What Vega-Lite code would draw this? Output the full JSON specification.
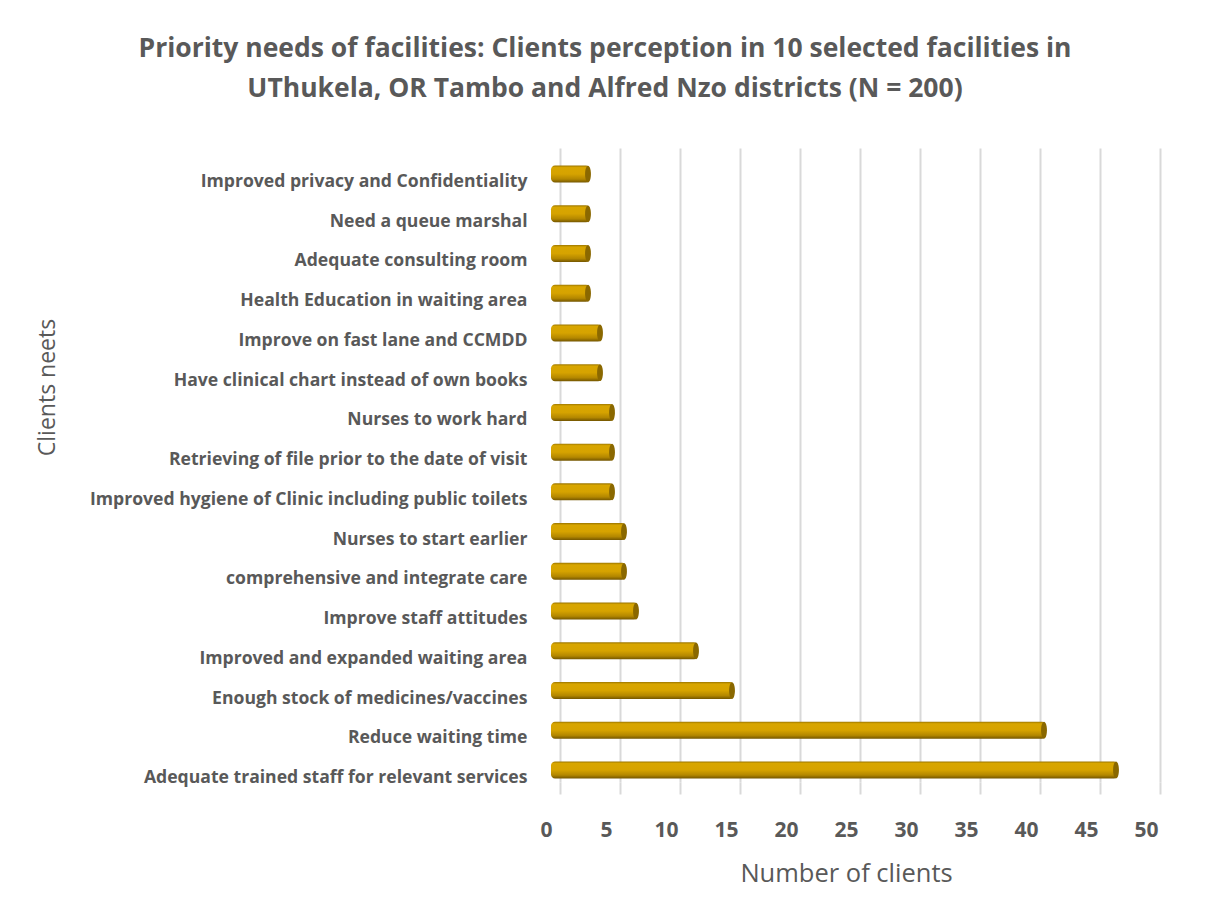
{
  "$schema": "https://vega.github.io/schema/vega-lite/v6.json",
  "autosize": "none",
  "width": 600,
  "height": 634,
  "padding": {"left": 560, "top": 148, "right": 49, "bottom": 142},
  "background": "white",
  "config": {
    "font": "Open Sans",
    "view": {"stroke": null}
  },
  "title": {
    "text": ["Priority needs of facilities: Clients perception in 10 selected facilities in", "UThukela, OR Tambo and Alfred Nzo districts (N = 200)"],
    "fontSize": 26.5,
    "fontWeight": "bold",
    "color": "#595959",
    "anchor": "middle",
    "dx": -255,
    "offset": 46,
    "lineHeight": 40,
    "font": "Open Sans"
  },
  "data": {
    "values": [
      {"need": "Improved privacy and Confidentiality", "clients": 3},
      {"need": "Need a queue marshal", "clients": 3},
      {"need": "Adequate consulting room", "clients": 3},
      {"need": "Health Education in waiting area", "clients": 3},
      {"need": "Improve on fast lane and CCMDD", "clients": 4},
      {"need": "Have clinical chart instead of own books", "clients": 4},
      {"need": "Nurses to work hard", "clients": 5},
      {"need": "Retrieving of file prior to the date of visit", "clients": 5},
      {"need": "Improved hygiene of Clinic including public toilets", "clients": 5},
      {"need": "Nurses to start earlier", "clients": 6},
      {"need": "comprehensive and integrate care", "clients": 6},
      {"need": "Improve staff attitudes", "clients": 7},
      {"need": "Improved and expanded waiting area", "clients": 12},
      {"need": "Enough stock of medicines/vaccines", "clients": 15},
      {"need": "Reduce waiting time", "clients": 41},
      {"need": "Adequate trained staff for relevant services", "clients": 47}
    ]
  },
  "encoding": {
    "y": {
      "field": "need",
      "type": "nominal",
      "sort": null,
      "scale": {"paddingInner": 0.572, "paddingOuter": 0.265},
      "axis": {
        "title": "Clients neets",
        "titleFontSize": 23,
        "titleFontWeight": "normal",
        "titleColor": "#595959",
        "titleX": -513,
        "titleY": 239,
        "titleAngle": -90,
        "titleAlign": "center",
        "titleBaseline": "middle",
        "labelFontSize": 17.6,
        "labelFontWeight": "bold",
        "labelColor": "#595959",
        "labelPadding": 33,
        "labelOffset": 15,
        "labelLimit": 500,
        "ticks": false,
        "domain": false
      }
    },
    "x": {
      "field": "clients",
      "type": "quantitative",
      "scale": {"domain": [0, 50], "nice": false},
      "axis": {
        "title": "Number of clients",
        "titleFontSize": 25.5,
        "titleFontWeight": "normal",
        "titleColor": "#595959",
        "titlePadding": 21,
        "titleX": 286,
        "titleAlign": "center",
        "values": [0, 5, 10, 15, 20, 25, 30, 35, 40, 45, 50],
        "labelFontSize": 21,
        "labelFontWeight": "bold",
        "labelColor": "#595959",
        "labelPadding": 25,
        "labelFlush": false,
        "labelOffset": -14,
        "ticks": true,
        "tickColor": "#d9d9d9",
        "tickWidth": 2,
        "tickSize": 12,
        "domain": false,
        "grid": true,
        "gridColor": "#d9d9d9",
        "gridWidth": 2
      }
    }
  },
  "layer": [
    {
      "mark": {
        "type": "bar",
        "height": 17,
        "cornerRadius": 4,
        "xOffset": -6,
        "x2Offset": -9,
        "yOffset": 7,
        "color": {
          "gradient": "linear",
          "x1": 0, "y1": 0, "x2": 0, "y2": 1,
          "stops": [
            {"offset": 0, "color": "#9c7600"},
            {"offset": 0.12, "color": "#d8a600"},
            {"offset": 0.5, "color": "#d6a300"},
            {"offset": 0.8, "color": "#b38700"},
            {"offset": 1, "color": "#745600"}
          ]
        }
      },
      "encoding": {
        "x2": {"datum": 0}
      }
    },
    {
      "mark": {
        "type": "point",
        "shape": "M 0 -1 A 0.35 1 0 1 1 0 1 A 0.35 1 0 1 1 0 -1 Z",
        "size": 280,
        "filled": true,
        "color": "#8a6800",
        "opacity": 1,
        "xOffset": -8,
        "yOffset": 7
      }
    }
  ]
}
